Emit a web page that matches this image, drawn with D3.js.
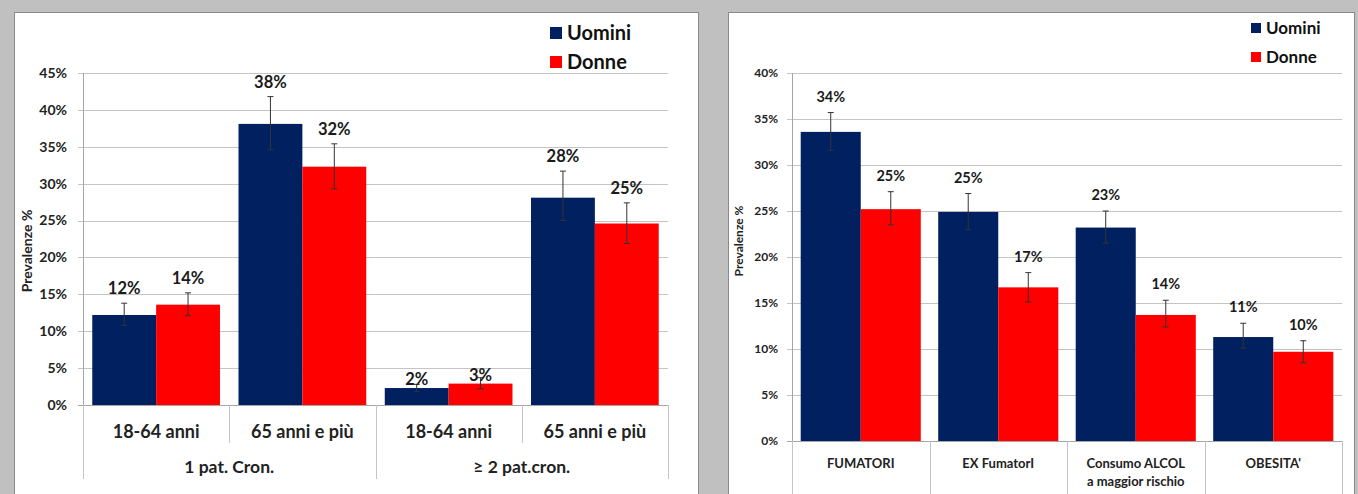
<!DOCTYPE html>
<html>
<head>
    <meta charset="utf-8">
    <title>Prevalenze</title>
    <script src="https://cdn.jsdelivr.net/npm/d3@7"></script>
    <style>
        body { margin: 0; background: #c0c0c0; }
        svg { display: block; }
    </style>
</head>
<body>
<script type="text/javascript">
    // ---- data: left chart (patologie croniche) ----
    var leftGroups = ["1 pat. Cron.", "\u2265 2 pat.cron."];
    var leftAges = ["18-64 anni", "65 anni e pi\u00f9", "18-64 anni", "65 anni e pi\u00f9"];
    var leftUomini = [12.2, 38.1, 2.3, 28.1];
    var leftUominiLo = [10.8, 34.6, 1.8, 25.0];
    var leftUominiHi = [13.8, 41.8, 2.8, 31.7];
    var leftDonne = [13.6, 32.3, 2.9, 24.6];
    var leftDonneLo = [12.1, 29.3, 2.2, 21.9];
    var leftDonneHi = [15.2, 35.4, 3.7, 27.4];
    var leftTicks = [0, 5, 10, 15, 20, 25, 30, 35, 40, 45];

    // ---- data: right chart (fattori di rischio) ----
    var rightCats = ["FUMATORI", "EX FumatorI", "Consumo ALCOL\na maggior rischio", "OBESITA'"];
    var rightUomini = [33.6, 24.9, 23.2, 11.3];
    var rightUominiLo = [31.6, 23.0, 21.5, 10.1];
    var rightUominiHi = [35.7, 26.9, 25.0, 12.8];
    var rightDonne = [25.2, 16.7, 13.7, 9.7];
    var rightDonneLo = [23.5, 15.1, 12.4, 8.5];
    var rightDonneHi = [27.1, 18.3, 15.3, 10.9];
    var rightTicks = [0, 5, 10, 15, 20, 25, 30, 35, 40];

    var series = ["Uomini", "Donne"];
    var colors = {Uomini: "#002060", Donne: "#ff0000"};
    var font = "Lato, 'Open Sans', sans-serif";

    var W = 1358, H = 494;
    var svg = d3.select("body").append("svg")
        .attr("width", W)
        .attr("height", H);

    svg.append("rect")
        .attr("width", W).attr("height", H)
        .attr("fill", "#c0c0c0");

    // white panels with a grey frame
    [[14, 698], [728, 1354]].forEach(function(p) {
        svg.append("rect")
            .attr("x", p[0] + 0.5).attr("y", 12.5)
            .attr("width", p[1] - p[0]).attr("height", H)
            .attr("fill", "white")
            .attr("stroke", "#8a8a8a");
    });

    function drawChart(o) {
        var g = svg.append("g");
        var y = d3.scaleLinear().domain([0, o.max]).range([o.bottom, o.top]);
        var x0 = d3.scaleBand().domain(d3.range(o.cats.length))
            .range([o.left, o.right]).padding(0);
        var x1 = d3.scaleBand().domain(series)
            .range([0, x0.bandwidth()]).paddingInner(0).paddingOuter(0.145);

        // gridlines + little ticks left of the axis
        g.selectAll("line.grid").data(o.ticks.filter(function(t){ return t > 0; }))
            .enter().append("line")
            .attr("x1", o.left - 5).attr("x2", o.right)
            .attr("y1", function(d){ return Math.round(y(d)) + 0.5; })
            .attr("y2", function(d){ return Math.round(y(d)) + 0.5; })
            .attr("stroke", "#c4c4c4");

        g.selectAll("text.tick").data(o.ticks)
            .enter().append("text")
            .text(function(d){ return d + "%"; })
            .attr("x", o.left - o.tickGap)
            .attr("y", function(d){ return y(d); })
            .attr("dy", "0.35em")
            .attr("text-anchor", "end")
            .attr("font-family", font)
            .attr("font-weight", "bold")
            .attr("font-size", o.tickSize)
            .attr("fill", "#222");

        // y axis title
        g.append("text")
            .text("Prevalenze %")
            .attr("transform", "translate(" + o.titleX + "," + o.titleY + ") rotate(-90)")
            .attr("text-anchor", "middle")
            .attr("font-family", font)
            .attr("font-weight", "bold")
            .attr("font-size", o.titleSize)
            .attr("fill", "#222");

        // bars
        var rows = [];
        o.cats.forEach(function(c, i) {
            series.forEach(function(s) {
                rows.push({i: i, s: s, v: o.vals[s][i], lo: o.lo[s][i], hi: o.hi[s][i]});
            });
        });
        g.selectAll("rect.bar").data(rows)
            .enter().append("rect")
            .attr("x", function(d){ return x0(d.i) + x1(d.s); })
            .attr("y", function(d){ return y(d.v); })
            .attr("width", x1.bandwidth())
            .attr("height", function(d){ return o.bottom - y(d.v); })
            .attr("fill", function(d){ return colors[d.s]; });

        // axis baseline and vertical axis
        g.append("line")
            .attr("x1", o.left - 5).attr("x2", o.right)
            .attr("y1", Math.round(o.bottom) + 0.5).attr("y2", Math.round(o.bottom) + 0.5)
            .attr("stroke", "#a6a6a6");
        g.append("line")
            .attr("x1", o.left + 0.5).attr("x2", o.left + 0.5)
            .attr("y1", o.top).attr("y2", o.bottom)
            .attr("stroke", "#a6a6a6");

        // error bars
        var eb = g.selectAll("g.err").data(rows).enter().append("g")
            .attr("transform", function(d){
                return "translate(" + (x0(d.i) + x1(d.s) + x1.bandwidth() / 2) + ",0)";
            });
        eb.append("line")
            .attr("y1", function(d){ return y(d.lo); })
            .attr("y2", function(d){ return y(d.hi); })
            .attr("stroke", "#333");
        eb.selectAll("line.cap").data(function(d){ return [d.lo, d.hi]; })
            .enter().append("line")
            .attr("x1", -3).attr("x2", 3)
            .attr("y1", function(d){ return y(d); })
            .attr("y2", function(d){ return y(d); })
            .attr("stroke", "#333");

        // value labels
        g.selectAll("text.val").data(rows)
            .enter().append("text")
            .text(function(d){ return Math.round(d.v) + "%"; })
            .attr("x", function(d){ return x0(d.i) + x1(d.s) + x1.bandwidth() / 2; })
            .attr("y", function(d){
                return d.v < 5 ? y(d.v) - 3 : y(d.hi) - o.labelGap;
            })
            .attr("text-anchor", "middle")
            .attr("font-family", font)
            .attr("font-weight", "bold")
            .attr("font-size", o.valSize)
            .attr("fill", "#1a1a1a");

        // category separators
        g.selectAll("line.sep").data(d3.range(o.cats.length + 1))
            .enter().append("line")
            .attr("x1", function(d){ return Math.round(x0.step() * d + o.left) + 0.5; })
            .attr("x2", function(d){ return Math.round(x0.step() * d + o.left) + 0.5; })
            .attr("y1", o.bottom)
            .attr("y2", function(d){ return o.sepLen(d); })
            .attr("stroke", "#c4c4c4");

        // category labels (may be two lines)
        var cl = g.selectAll("text.cat").data(o.cats)
            .enter().append("text")
            .attr("text-anchor", "middle")
            .attr("font-family", font)
            .attr("font-weight", "bold")
            .attr("font-size", o.catSize)
            .attr("fill", "#222");
        cl.selectAll("tspan").data(function(d, i){
                return d.split("\n").map(function(t){ return {t: t, i: i}; });
            })
            .enter().append("tspan")
            .text(function(d){ return d.t; })
            .attr("x", function(d){ return x0(d.i) + x0.bandwidth() / 2; })
            .attr("y", function(d, j){ return o.catY + j * o.catLine; });

        // legend
        series.forEach(function(s, k) {
            g.append("rect")
                .attr("x", o.legX).attr("y", o.legY + k * o.legStep - o.legBox / 2)
                .attr("width", o.legBox).attr("height", o.legBox)
                .attr("fill", colors[s]);
            g.append("text")
                .text(s)
                .attr("x", o.legX + o.legBox + 5)
                .attr("y", o.legY + k * o.legStep)
                .attr("dy", "0.35em")
                .attr("font-family", font)
                .attr("font-weight", "bold")
                .attr("font-size", o.legSize)
                .attr("fill", "#111");
        });
        return {x0: x0, y: y, g: g};
    }

    // left chart
    var L = drawChart({
        cats: leftAges, max: 45, ticks: leftTicks,
        vals: {Uomini: leftUomini, Donne: leftDonne},
        lo: {Uomini: leftUominiLo, Donne: leftDonneLo},
        hi: {Uomini: leftUominiHi, Donne: leftDonneHi},
        left: 83, right: 668, top: 73, bottom: 405,
        tickGap: 16, tickSize: 14, titleX: 32, titleY: 251, titleSize: 14,
        valSize: 16.5, labelGap: 9, catSize: 18, catY: 438, catLine: 18,
        sepLen: function(d){ return d % 2 === 0 ? 479 : 443; },
        legX: 550, legY: 33, legStep: 29, legBox: 12, legSize: 20
    });
    // outer group labels for the left chart
    L.g.selectAll("text.grp").data(leftGroups)
        .enter().append("text")
        .text(function(d){ return d; })
        .attr("x", function(d, i){ return L.x0(i * 2) + L.x0.step(); })
        .attr("y", 473)
        .attr("text-anchor", "middle")
        .attr("font-family", font)
        .attr("font-weight", "bold")
        .attr("font-size", 17.5)
        .attr("fill", "#222");

    // right chart
    drawChart({
        cats: rightCats, max: 40, ticks: rightTicks,
        vals: {Uomini: rightUomini, Donne: rightDonne},
        lo: {Uomini: rightUominiLo, Donne: rightDonneLo},
        hi: {Uomini: rightUominiHi, Donne: rightDonneHi},
        left: 792, right: 1342, top: 73, bottom: 441,
        tickGap: 14, tickSize: 12, titleX: 743, titleY: 241, titleSize: 12,
        valSize: 14.5, labelGap: 11, catSize: 13, catY: 468, catLine: 18,
        sepLen: function(d){ return 494; },
        legX: 1251, legY: 28, legStep: 29, legBox: 10, legSize: 17
    });
</script>
</body>
</html>
